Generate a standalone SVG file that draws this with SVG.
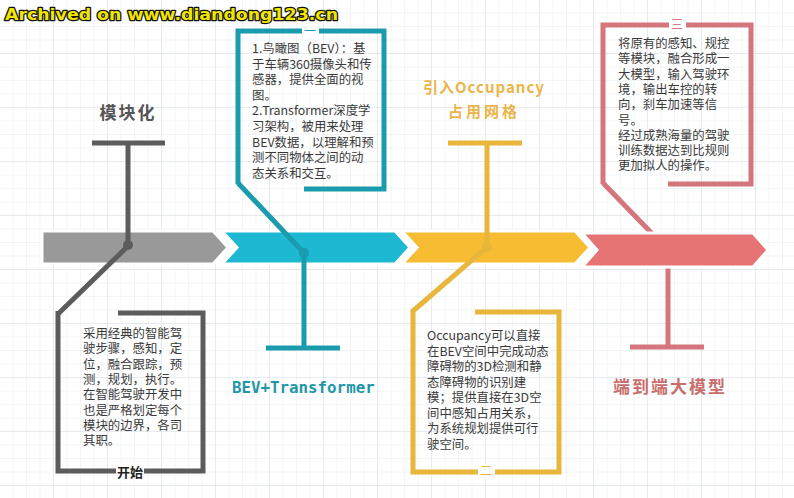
<svg xmlns="http://www.w3.org/2000/svg" width="794" height="498" viewBox="0 0 794 498">
<defs>
<pattern id="grid" width="13.5" height="13.5" patternUnits="userSpaceOnUse">
<path d="M13.5 0V13.5H0" fill="none" stroke="#e7ebf0" stroke-width="1"/>
</pattern>
<pattern id="grid2" width="54" height="54" patternUnits="userSpaceOnUse">
<path d="M54 0V54H0" fill="none" stroke="#dbe0e6" stroke-width="1"/>
</pattern>
<style>
.body{font-family:"Noto Sans CJK SC","Noto Sans",sans-serif;font-size:12.4px;fill:#3a3a3a}
.title{font-family:"Noto Sans CJK SC","Noto Sans",sans-serif;font-weight:bold;text-anchor:middle}
.ln{fill:none;stroke-width:5;stroke-linecap:butt;stroke-linejoin:miter}
.g{stroke:#5c5c5c}.t{stroke:#1b9bae}.y{stroke:#e8b63a}.p{stroke:#d4767b}
.band{stroke:#fff;stroke-width:3}
.mark{font-family:"Noto Sans CJK SC",sans-serif;font-size:12px;text-anchor:middle}
</style>
</defs>
<rect width="794" height="498" fill="#fff"/>
<rect width="794" height="498" fill="url(#grid)"/>
<rect width="794" height="498" fill="url(#grid2)"/>

<text x="5" y="20" textLength="333" lengthAdjust="spacingAndGlyphs" font-family="DejaVu Sans" font-weight="bold" font-size="16" fill="#f2e600" stroke="#111" stroke-width="2.5" paint-order="stroke" stroke-linejoin="round">Archived on www.diandong123.cn</text>

<g id="timeline">
<polygon class="band" fill="#999999" points="42,231 213,231 228,247.5 213,264 42,264"/>
<polygon class="band" fill="#1db8d1" points="222,231 395,231 410,247.5 395,264 222,264 237,247.5"/>
<polygon class="band" fill="#f7bd32" points="402,231 575,231 590,247.5 575,264 402,264 417,247.5"/>
</g>

<g id="connectors">
<polyline class="ln p" points="603,183 668,250 668,347"/>
</g>
<g id="timeline-pink">
<polygon class="band" fill="#e77474" points="582,233 753,233 768,250 753,267 582,267 597,250"/>
</g>

<g id="connectors-top">
<polyline class="ln g" points="128,143 128,246 58,314"/>
<line class="ln g" x1="92" y1="143" x2="165" y2="143"/>
<circle cx="128" cy="245" r="5" fill="#5c5c5c"/>
<polyline class="ln t" points="238,183 304,253 304,348"/>
<line class="ln t" x1="266" y1="348" x2="340" y2="348"/>
<circle cx="304" cy="253" r="5" fill="#1b9bae"/>
<polyline class="ln y" points="487,143 487,247 413,311"/>
<line class="ln y" x1="448" y1="143" x2="522" y2="143"/>
<circle cx="487" cy="247" r="5" fill="#e8b63a"/>
</g>

<g id="node-modular">
<text class="title" x="128" y="119" font-size="17" letter-spacing="2" fill="#555">模块化</text>
<polyline class="ln g" points="118,313 203,313 203,471 58,471 58,311"/>
<rect x="116" y="463" width="28" height="16" fill="#fff"/>
<text x="130" y="477" font-family="Noto Sans CJK SC,sans-serif" font-weight="bold" font-size="13" text-anchor="middle" fill="#222">开始</text>
<text class="body" x="83" y="338"><tspan x="83">采用经典的智能驾</tspan><tspan x="83" dy="15.3">驶步骤，感知，定</tspan><tspan x="83" dy="15.3">位，融合跟踪，预</tspan><tspan x="83" dy="15.3">测，规划，执行。</tspan><tspan x="83" dy="15.3">在智能驾驶开发中</tspan><tspan x="83" dy="15.3">也是严格划定每个</tspan><tspan x="83" dy="15.3">模块的边界，各司</tspan><tspan x="83" dy="15.3">其职。</tspan></text>
</g>

<g id="node-bev">
<polyline class="ln t" points="238,184 238,31 384,31 384,189 304,189"/>
<rect x="302" y="25" width="17" height="10" fill="#fff"/>
<text class="mark" x="310" y="36" fill="#1b9bae">一</text>
<text class="body" x="252" y="53"><tspan x="252">1.鸟瞰图（BEV）：基</tspan><tspan x="252" dy="15.6">于车辆360摄像头和传</tspan><tspan x="252" dy="15.6">感器，提供全面的视</tspan><tspan x="252" dy="15.6">图。</tspan><tspan x="252" dy="15.6">2.Transformer深度学</tspan><tspan x="252" dy="15.6">习架构，被用来处理</tspan><tspan x="252" dy="15.6">BEV数据，以理解和预</tspan><tspan x="252" dy="15.6">测不同物体之间的动</tspan><tspan x="252" dy="15.6">态关系和交互。</tspan></text>
<text x="232" y="393" font-family="DejaVu Sans Mono,monospace" font-weight="bold" font-size="15.8" fill="#1f97a8">BEV+Transformer</text>
</g>

<g id="node-occupancy">
<text class="title" x="484" y="93" font-size="15" letter-spacing="1" fill="#ebb54a">引入Occupancy</text>
<text class="title" x="484" y="117" font-size="15" letter-spacing="3" fill="#ebb54a">占用网格</text>
<polyline class="ln y" points="475,312 559,312 559,472 413,472 413,309"/>
<rect x="478" y="464" width="17" height="13" rx="3" fill="#fff"/>
<text class="mark" x="486" y="475" fill="#e8b63a">二</text>
<text class="body" x="427" y="340"><tspan x="427">Occupancy可以直接</tspan><tspan x="427" dy="15.5">在BEV空间中完成动态</tspan><tspan x="427" dy="15.5">障碍物的3D检测和静</tspan><tspan x="427" dy="15.5">态障碍物的识别建</tspan><tspan x="427" dy="15.5">模；提供直接在3D空</tspan><tspan x="427" dy="15.5">间中感知占用关系，</tspan><tspan x="427" dy="15.5">为系统规划提供可行</tspan><tspan x="427" dy="15.5">驶空间。</tspan></text>
</g>

<g id="node-e2e">
<polyline class="ln p" points="603,184 603,25 751,25 751,184 668,184"/>
<line class="ln p" x1="630" y1="347" x2="704" y2="347"/>
<rect x="669" y="18" width="17" height="13" fill="#fff"/>
<text class="mark" x="677" y="29" fill="#d4767b">三</text>
<text class="body" x="618" y="48"><tspan x="618">将原有的感知、规控</tspan><tspan x="618" dy="15.3">等模块，融合形成一</tspan><tspan x="618" dy="15.3">大模型，输入驾驶环</tspan><tspan x="618" dy="15.3">境，输出车控的转</tspan><tspan x="618" dy="15.3">向，刹车加速等信</tspan><tspan x="618" dy="15.3">号。</tspan><tspan x="618" dy="15.3">经过成熟海量的驾驶</tspan><tspan x="618" dy="15.3">训练数据达到比规则</tspan><tspan x="618" dy="15.3">更加拟人的操作。</tspan></text>
<text class="title" x="670" y="393" font-size="17" letter-spacing="2" fill="#c96d6d">端到端大模型</text>
</g>
</svg>
